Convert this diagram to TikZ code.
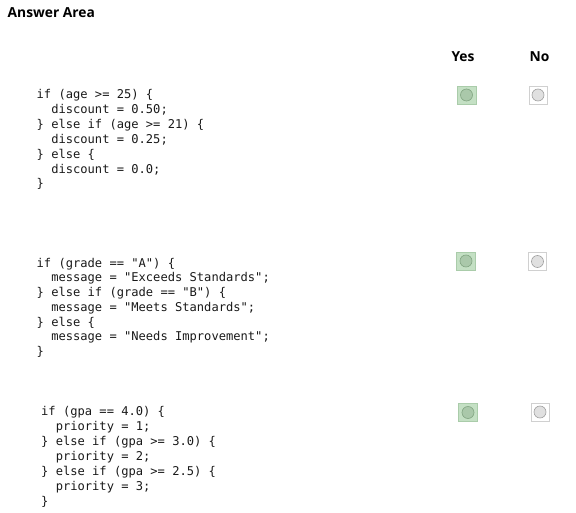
\documentclass[tikz,border=0pt]{standalone}
\usepackage{fontspec}
\setmainfont{Open Sans}
\setmonofont{DejaVu Sans Mono}
\definecolor{yesfill}{RGB}{196,224,196}
\definecolor{yesdraw}{RGB}{170,204,170}
\definecolor{yescirc}{RGB}{170,200,170}
\definecolor{yescircd}{RGB}{130,165,130}
\definecolor{nodraw}{RGB}{208,208,208}
\definecolor{nocirc}{RGB}{224,224,224}
\definecolor{nocircd}{RGB}{160,160,160}
\newcommand{\ind}{\hphantom{xx}}
\tikzset{
  codeline/.style={anchor=base west, inner sep=0pt, font=\ttfamily\fontsize{12.1}{15}\selectfont, text=black!90},
  head/.style={inner sep=0pt, font=\bfseries\fontsize{13.8}{16}\selectfont},
  yesbox/.style={draw=yesdraw, fill=yesfill, minimum width=19pt, minimum height=18pt, inner sep=0pt, line width=0.8pt},
  nobox/.style={draw=nodraw, fill=white, minimum width=18pt, minimum height=18pt, inner sep=0pt, line width=0.8pt},
  yescircle/.style={circle, draw=yescircd, fill=yescirc, minimum size=12pt, inner sep=0pt, line width=0.6pt},
  nocircle/.style={circle, draw=nocircd, fill=nocirc, minimum size=12pt, inner sep=0pt, line width=0.6pt}
}
\begin{document}
\begin{tikzpicture}[x=1pt,y=-1pt]
\useasboundingbox (0,0) rectangle (576,513);
\node[head, anchor=base west] (title) at (7.5,17.5) {Answer Area};
\node[head, anchor=base] (yes) at (463,61.5) {Yes};
\node[head, anchor=base] (no) at (539.5,61.5) {No};
% block 1
\node[codeline] (a1) at (36.5,99) {if (age >= 25) \{};
\node[codeline] (a2) at (36.5,114) {\ind discount = 0.50;};
\node[codeline] (a3) at (36.5,128.8) {\} else if (age >= 21) \{};
\node[codeline] (a4) at (36.5,143.6) {\ind discount = 0.25;};
\node[codeline] (a5) at (36.5,158.4) {\} else \{};
\node[codeline] (a6) at (36.5,173.2) {\ind discount = 0.0;};
\node[codeline] (a7) at (36.5,188) {\}};
% block 2
\node[codeline] (b1) at (36.5,267.3) {if (grade == "A") \{};
\node[codeline] (b2) at (36.5,282) {\ind message = "Exceeds Standards";};
\node[codeline] (b3) at (36.5,296.7) {\} else if (grade == "B") \{};
\node[codeline] (b4) at (36.5,311.4) {\ind message = "Meets Standards";};
\node[codeline] (b5) at (36.5,326.1) {\} else \{};
\node[codeline] (b6) at (36.5,340.8) {\ind message = "Needs Improvement";};
\node[codeline] (b7) at (36.5,355.5) {\}};
% block 3
\node[codeline] (c1) at (41,415.5) {if (gpa == 4.0) \{};
\node[codeline] (c2) at (41,430.5) {\ind priority = 1;};
\node[codeline] (c3) at (41,445.5) {\} else if (gpa >= 3.0) \{};
\node[codeline] (c4) at (41,460.5) {\ind priority = 2;};
\node[codeline] (c5) at (41,475.5) {\} else if (gpa >= 2.5) \{};
\node[codeline] (c6) at (41,490.5) {\ind priority = 3;};
\node[codeline] (c7) at (41,505.5) {\}};
% answer boxes
\node[yesbox] (y1) at (466.5,95) {};
\node[yescircle] (y1c) at (y1) {};
\node[nobox] (n1) at (538,95) {};
\node[nocircle] (n1c) at (n1) {};
\node[yesbox] (y2) at (466,261) {};
\node[yescircle] (y2c) at (y2) {};
\node[nobox] (n2) at (537.5,261.5) {};
\node[nocircle] (n2c) at (n2) {};
\node[yesbox] (y3) at (468,412.5) {};
\node[yescircle] (y3c) at (y3) {};
\node[nobox] (n3) at (540,412) {};
\node[nocircle] (n3c) at (n3) {};
\end{tikzpicture}
\end{document}
